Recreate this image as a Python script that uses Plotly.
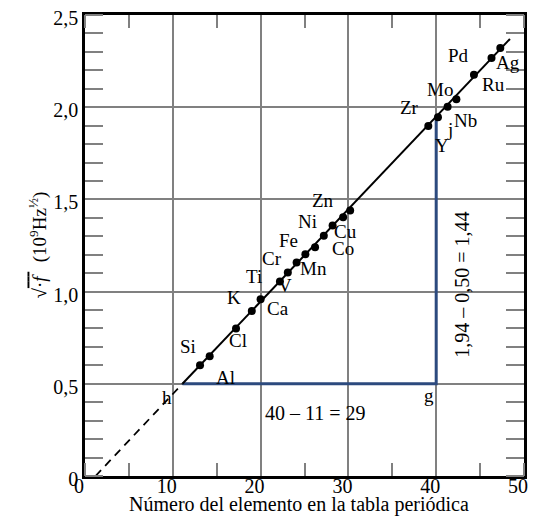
import plotly.graph_objects as go

# ---- data ----
elements = ["Al", "Si", "Cl", "K", "Ca", "Ti", "V", "Cr", "Mn", "Fe", "Co", "Ni", "Cu", "Zn",
            "Y", "Zr", "Nb", "Mo", "Ru", "Pd", "Ag"]
atomic_number = [13.1, 14.2, 17.2, 19.0, 20.0, 22.2, 23.1, 24.1, 25.1, 26.2, 27.2, 28.2, 29.4, 30.2,
                 39.1, 40.2, 41.3, 42.3, 44.3, 46.3, 47.3]
sqrt_f = [0.60, 0.65, 0.80, 0.895, 0.958, 1.055, 1.104, 1.158, 1.203, 1.240, 1.303, 1.358, 1.403, 1.440,
          1.898, 1.945, 2.003, 2.043, 2.176, 2.267, 2.321]

fit_solid_x = [11.1, 48.4]
fit_solid_y = [0.50, 2.37]
fit_dash_x = [1.2, 11.1]
fit_dash_y = [0.0, 0.50]

tri_x = [11.1, 40.0, 40.0]
tri_y = [0.50, 0.50, 1.94]

x_ticks = [0, 10, 20, 30, 40, 50]
x_ticktext = ["0", "10", "20", "30", "40", "50"]
y_ticks = [0, 0.5, 1.0, 1.5, 2.0, 2.5]
y_ticktext = ["0", "0,5", "1,0", "1,5", "2,0", "2,5"]

# label pixel offsets (dx, dy) relative to each point
label_offsets = {
    "Al": (25, -12), "Si": (-22, 10), "Cl": (2, -12), "K": (-18, 13), "Ca": (17, -9),
    "Ti": (-26, 5), "V": (-3, -13), "Cr": (-25, 4), "Mn": (8, -14), "Fe": (-27, 7),
    "Co": (19, -13), "Ni": (-25, 4), "Cu": (2, -14), "Zn": (-27, 10), "Y": (14, -19),
    "Zr": (-28, 10), "Nb": (18, -14), "Mo": (-16, 10), "Ru": (20, -10), "Pd": (-33, 2),
    "Ag": (8, -14),
}

FONT = "Liberation Serif"
GRID = "#808080"
BLUE = "#2c4a7e"

fig = go.Figure()

fig.add_trace(go.Scatter(x=fit_dash_x, y=fit_dash_y, mode="lines",
                         line=dict(color="black", width=1.8, dash="8px,6px"), hoverinfo="skip"))
fig.add_trace(go.Scatter(x=tri_x, y=tri_y, mode="lines",
                         line=dict(color=BLUE, width=3), hoverinfo="skip"))
fig.add_trace(go.Scatter(x=fit_solid_x, y=fit_solid_y, mode="lines",
                         line=dict(color="black", width=2), hoverinfo="skip"))
fig.add_trace(go.Scatter(x=atomic_number, y=sqrt_f, mode="markers",
                         marker=dict(color="black", size=8), hoverinfo="skip"))

annotations = []
for el, zx, zy in zip(elements, atomic_number, sqrt_f):
    dx, dy = label_offsets[el]
    annotations.append(dict(x=zx, y=zy, text=el, showarrow=False, xshift=dx, yshift=dy,
                            font=dict(family=FONT, size=19, color="black")))

# triangle vertex letters
annotations += [
    dict(x=tri_x[0], y=tri_y[0], text="h", showarrow=False, xshift=-15, yshift=-14,
         font=dict(family=FONT, size=19, color="black")),
    dict(x=tri_x[1], y=tri_y[1], text="g", showarrow=False, xshift=-7, yshift=-12,
         font=dict(family=FONT, size=19, color="black")),
    dict(x=tri_x[2], y=tri_y[2], text="j", showarrow=False, xshift=14, yshift=-11,
         font=dict(family=FONT, size=19, color="black")),
    dict(x=26.2, y=0.34, text="40 – 11 = 29", showarrow=False,
         font=dict(family=FONT, size=20, color="black")),
    dict(x=42.9, y=1.035, text="1,94 – 0,50 = 1,44", showarrow=False, textangle=-90,
         font=dict(family=FONT, size=20, color="black")),
    dict(xref="paper", yref="paper", x=0.487, y=-0.091, yanchor="bottom",
         text="Número del elemento en la tabla periódica",
         showarrow=False, font=dict(family=FONT, size=20, color="black")),
    dict(xref="paper", yref="paper", x=-0.14, y=0.5, textangle=-90,
         text="√<span style='text-decoration:overline'>·<i>f</i> </span>  (10<sup>9</sup>Hz<sup>½</sup>)",
         showarrow=False, font=dict(family=FONT, size=19, color="black")),
]

fig.update_layout(
    width=534, height=518,
    margin=dict(l=85, r=6, t=15, b=42),
    paper_bgcolor="white", plot_bgcolor="white",
    showlegend=False,
    annotations=annotations,
    font=dict(family=FONT, color="black"),
)

fig.update_xaxes(
    range=[0, 50], tickvals=x_ticks, ticktext=x_ticktext, ticks="",
    tickfont=dict(family=FONT, size=20, color="black"), ticklabelshift=-6, ticklabelstandoff=-10,
    showgrid=True, gridcolor=GRID, gridwidth=2, zeroline=False,
    showline=True, linecolor="black", linewidth=2.5, mirror="ticks",
    minor=dict(dtick=5, tick0=0, ticks="inside", ticklen=13, tickwidth=2, tickcolor=GRID, showgrid=False),
)
fig.update_yaxes(
    range=[0, 2.5], tickvals=y_ticks, ticktext=y_ticktext, ticks="",
    tickfont=dict(family=FONT, size=20, color="black"), ticklabelshift=3,
    showgrid=True, gridcolor=GRID, gridwidth=2, zeroline=False,
    showline=True, linecolor="black", linewidth=2.5, mirror="ticks",
    minor=dict(dtick=0.1, tick0=0, ticks="inside", ticklen=18, tickwidth=2, tickcolor=GRID, showgrid=False),
)

fig.write_html("out.html", config={"displayModeBar": False},
               post_script="document.body.style.margin='0';")
